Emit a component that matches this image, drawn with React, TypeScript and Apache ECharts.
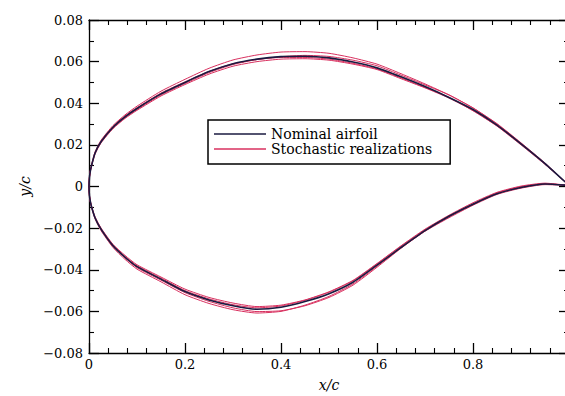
import React, { useEffect, useRef } from "react";
import * as echarts from "echarts";

// chordwise stations x/c
const xStations = [0, 0.001, 0.0025, 0.005, 0.0125, 0.025, 0.05, 0.075, 0.1, 0.15, 0.2, 0.25, 0.3, 0.35, 0.4, 0.45, 0.5, 0.55, 0.6, 0.65, 0.7, 0.75, 0.8, 0.85, 0.9, 0.95, 1.0];

const nominalUpper = [0, 0.0045, 0.007, 0.0098, 0.016, 0.0215, 0.0285, 0.0335, 0.0375, 0.0445, 0.05, 0.0552, 0.059, 0.0612, 0.0624, 0.0626, 0.0618, 0.0598, 0.057, 0.0527, 0.048, 0.0428, 0.037, 0.0295, 0.0205, 0.011, 0.0005];
const nominalLower = [0, -0.0045, -0.0068, -0.0095, -0.015, -0.0205, -0.0285, -0.034, -0.0385, -0.0445, -0.0505, -0.0545, -0.0573, -0.059, -0.058, -0.0553, -0.0515, -0.046, -0.0378, -0.0293, -0.0212, -0.0143, -0.0085, -0.0035, -0.0005, 0.0012, 0.0005];

const real1Upper = [0, 0.0047, 0.0073, 0.0102, 0.0166, 0.0222, 0.0293, 0.0344, 0.0386, 0.0458, 0.0515, 0.0568, 0.0608, 0.0632, 0.0646, 0.0648, 0.064, 0.0618, 0.0588, 0.0542, 0.0493, 0.044, 0.0378, 0.03, 0.0208, 0.011, 0.0005];
const real1Lower = [0, -0.0046, -0.007, -0.0098, -0.0155, -0.0212, -0.0293, -0.035, -0.0397, -0.0458, -0.052, -0.0562, -0.0592, -0.0608, -0.06, -0.057, -0.0528, -0.0468, -0.0383, -0.0295, -0.0215, -0.015, -0.009, -0.0038, -0.0008, 0.0009, 0.0005];

const real2Upper = [0, 0.0043, 0.0068, 0.0095, 0.0155, 0.0209, 0.0278, 0.0327, 0.0366, 0.0435, 0.049, 0.054, 0.0578, 0.06, 0.0612, 0.0614, 0.0607, 0.0588, 0.0562, 0.0518, 0.0474, 0.0425, 0.0365, 0.0292, 0.0204, 0.011, 0.0005];
const real2Lower = [0, -0.0044, -0.0066, -0.0092, -0.0145, -0.0199, -0.0278, -0.0331, -0.0376, -0.0435, -0.0493, -0.0533, -0.056, -0.0577, -0.057, -0.0545, -0.0506, -0.0451, -0.037, -0.0285, -0.0205, -0.0138, -0.0078, -0.0028, 0.0002, 0.0016, 0.0005];

const real3Upper = [0, 0.0044, 0.0069, 0.0097, 0.0158, 0.0212, 0.0281, 0.033, 0.037, 0.044, 0.0495, 0.0547, 0.0586, 0.061, 0.0624, 0.063, 0.0625, 0.0607, 0.058, 0.0535, 0.0488, 0.044, 0.0377, 0.0302, 0.021, 0.0113, 0.0005];
const real3Lower = [0, -0.0045, -0.0069, -0.0096, -0.0152, -0.0207, -0.0288, -0.0343, -0.039, -0.045, -0.051, -0.0552, -0.0583, -0.0601, -0.0597, -0.0573, -0.0533, -0.0474, -0.0388, -0.0297, -0.0214, -0.0146, -0.0085, -0.0031, -0.0001, 0.0014, 0.0005];

const real4Upper = [0, 0.0046, 0.0071, 0.0099, 0.0162, 0.0218, 0.0289, 0.0339, 0.0379, 0.0449, 0.0503, 0.0553, 0.059, 0.061, 0.062, 0.062, 0.0612, 0.0592, 0.0565, 0.0522, 0.0476, 0.0428, 0.0364, 0.029, 0.02, 0.0106, 0.0005];
const real4Lower = [0, -0.0044, -0.0067, -0.0094, -0.0148, -0.0202, -0.0281, -0.0336, -0.0381, -0.044, -0.05, -0.054, -0.0568, -0.0583, -0.0574, -0.0547, -0.0508, -0.0453, -0.0372, -0.0287, -0.0208, -0.0142, -0.0083, -0.0031, -0.0002, 0.0013, 0.0005];

const realizations = [
  [real1Upper, real1Lower],
  [real2Upper, real2Lower],
  [real3Upper, real3Lower],
  [real4Upper, real4Lower],
];

const NOMINAL = "Nominal airfoil";
const STOCH = "Stochastic realizations";

function contour(upper: number[], lower: number[]): number[][] {
  const pts: number[][] = [];
  for (let i = xStations.length - 1; i >= 0; i--) pts.push([xStations[i], upper[i]]);
  for (let i = 1; i < xStations.length; i++) pts.push([xStations[i], lower[i]]);
  return pts;
}

const FONT = "DejaVu Serif";
const CHART_W = 576;

export default function App() {
  const ref = useRef<HTMLDivElement>(null);
  useEffect(() => {
    if (!ref.current) return;
    const chart = echarts.init(ref.current, undefined, { renderer: "svg" });
    const axisCommon = {
      axisLine: { show: true, onZero: false, lineStyle: { color: "#000", width: 1.3 } },
      axisTick: { show: true, inside: true, length: 10, lineStyle: { color: "#000", width: 1.3 } },
      minorTick: { show: true, length: 5, lineStyle: { color: "#000", width: 1.1 } },
      splitLine: { show: false },
      minorSplitLine: { show: false },
    };
    const fmtY = (v: number) => {
      if (Math.abs(v) < 1e-9) return "0";
      return v.toFixed(2).replace("-", "\u2212");
    };
    const series: any[] = realizations.map(([u, l]) => ({
      type: "line",
      name: STOCH,
      data: contour(u, l),
      xAxisIndex: 0,
      yAxisIndex: 0,
      symbol: "none",
      smooth: 0.2,
      lineStyle: { color: "#d8305f", width: 1 },
      itemStyle: { color: "#d8305f" },
    }));
    series.push({
      type: "line",
      name: NOMINAL,
      data: contour(nominalUpper, nominalLower),
      xAxisIndex: 0,
      yAxisIndex: 0,
      symbol: "none",
      smooth: 0.2,
      lineStyle: { color: "#1a1a40", width: 1.6 },
      itemStyle: { color: "#1a1a40" },
      z: 5,
    });
    chart.setOption({
      animation: false,
      backgroundColor: "#fff",
      grid: { left: 89, top: 20, width: 480, height: 333, containLabel: false, outerBoundsMode: "none" },
      legend: {
        data: [
          { name: NOMINAL, icon: "rect" },
          { name: STOCH, icon: "rect" },
        ],
        orient: "vertical",
        left: 208,
        top: 120,
        padding: [7, 18, 8, 6],
        itemGap: 1,
        itemWidth: 52,
        itemHeight: 1.5,
        borderColor: "#000",
        borderWidth: 1.5,
        backgroundColor: "#fff",
        textStyle: { fontFamily: FONT, fontSize: 14, color: "#000", lineHeight: 14, height: 14 },
        selectedMode: false,
      },
      xAxis: [
        {
          type: "value",
          position: "bottom",
          min: 0,
          max: 1,
          interval: 0.2,
          ...axisCommon,
          minorTick: { ...axisCommon.minorTick, splitNumber: 5 },
          axisLabel: {
            margin: 5,
            fontFamily: FONT,
            fontSize: 13,
            color: "#000",
            formatter: (v: number) => (v >= 0.999 ? "" : v === 0 ? "0" : String(Number(v.toFixed(1)))),
          },
          name: "x/c",
          nameLocation: "middle",
          nameGap: 25,
          nameTextStyle: { fontFamily: FONT, fontStyle: "italic", fontSize: 14, color: "#000" },
        },
        {
          type: "value",
          position: "top",
          min: 0,
          max: 1,
          interval: 0.2,
          ...axisCommon,
          minorTick: { ...axisCommon.minorTick, splitNumber: 5 },
          axisLabel: { show: false },
        },
      ],
      yAxis: [
        {
          type: "value",
          position: "left",
          min: -0.08,
          max: 0.08,
          interval: 0.02,
          ...axisCommon,
          minorTick: { ...axisCommon.minorTick, splitNumber: 2 },
          axisLabel: { margin: 6, fontFamily: FONT, fontSize: 13, color: "#000", formatter: fmtY },
          name: "y/c",
          nameLocation: "middle",
          nameGap: 57,
          nameRotate: 90,
          nameTextStyle: { fontFamily: FONT, fontStyle: "italic", fontSize: 14, color: "#000" },
        },
        {
          type: "value",
          position: "right",
          min: -0.08,
          max: 0.08,
          interval: 0.02,
          ...axisCommon,
          minorTick: { ...axisCommon.minorTick, splitNumber: 2 },
          axisLabel: { show: false },
        },
      ],
      series,
    });
    return () => chart.dispose();
  }, []);
  return (
    <div
      style={{ position: "fixed", left: 0, top: 0, width: 565, height: 396, overflow: "hidden", background: "#fff" }}
    >
      <div ref={ref} style={{ width: CHART_W, height: 396 }} />
    </div>
  );
}
